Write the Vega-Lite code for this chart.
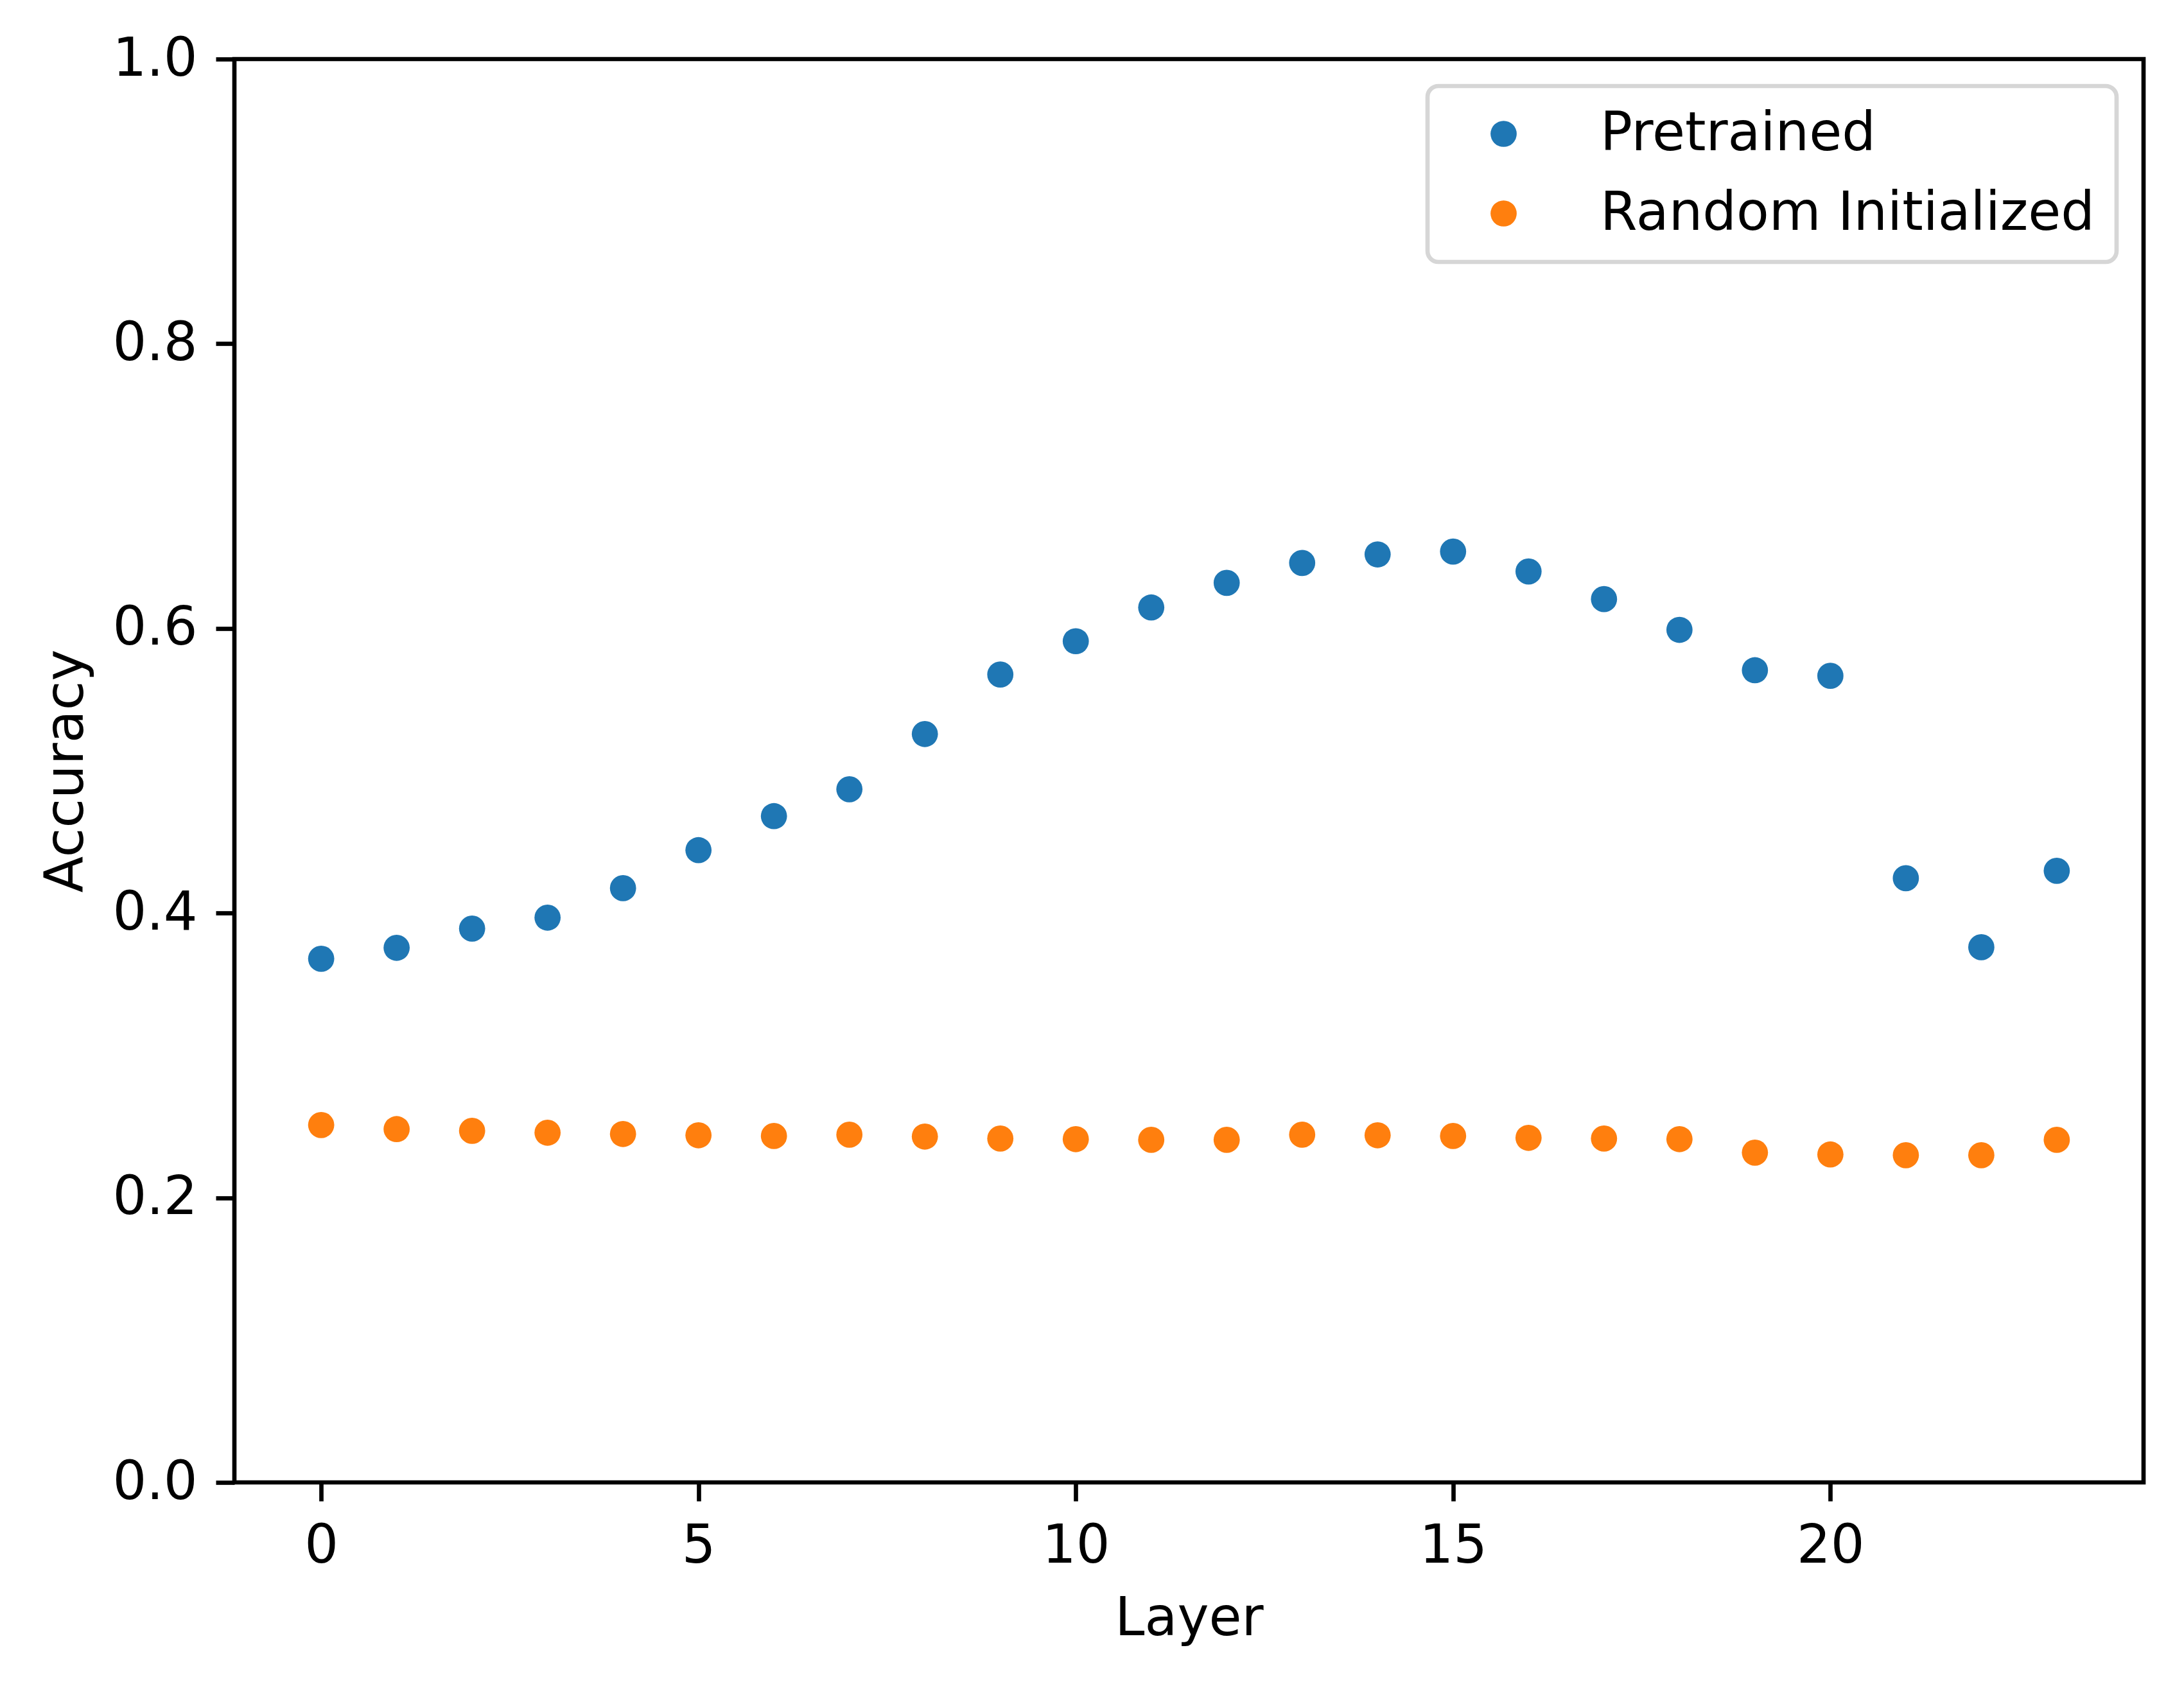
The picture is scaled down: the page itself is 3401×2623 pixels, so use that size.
{
  "$schema": "https://vega.github.io/schema/vega-lite/v6.json",
  "width": 2973,
  "height": 2217,
  "autosize": {"type": "none"},
  "padding": {"left": 365, "top": 92, "right": 63, "bottom": 314},
  "background": "white",
  "config": {
    "view": {"stroke": "black", "strokeWidth": 6.67},
    "font": "DejaVu Sans",
    "axis": {
      "grid": false,
      "domain": false,
      "tickSize": 29,
      "tickWidth": 6.67,
      "tickColor": "black",
      "labelFontSize": 83,
      "labelColor": "black",
      "labelPadding": 29,
      "labelFlush": false,
      "labelOverlap": false,
      "labelBound": false,
      "titleFontSize": 83,
      "titleFontWeight": "normal",
      "titleColor": "black",
      "titlePadding": 30
    }
  },
  "data": {
    "values": [
      {"layer": 0, "acc": 0.3679, "series": "Pretrained"},
      {"layer": 1, "acc": 0.3756, "series": "Pretrained"},
      {"layer": 2, "acc": 0.3891, "series": "Pretrained"},
      {"layer": 3, "acc": 0.3968, "series": "Pretrained"},
      {"layer": 4, "acc": 0.4175, "series": "Pretrained"},
      {"layer": 5, "acc": 0.4442, "series": "Pretrained"},
      {"layer": 6, "acc": 0.4681, "series": "Pretrained"},
      {"layer": 7, "acc": 0.4870, "series": "Pretrained"},
      {"layer": 8, "acc": 0.5258, "series": "Pretrained"},
      {"layer": 9, "acc": 0.5676, "series": "Pretrained"},
      {"layer": 10, "acc": 0.5910, "series": "Pretrained"},
      {"layer": 11, "acc": 0.6147, "series": "Pretrained"},
      {"layer": 12, "acc": 0.6320, "series": "Pretrained"},
      {"layer": 13, "acc": 0.6460, "series": "Pretrained"},
      {"layer": 14, "acc": 0.6520, "series": "Pretrained"},
      {"layer": 15, "acc": 0.6540, "series": "Pretrained"},
      {"layer": 16, "acc": 0.6400, "series": "Pretrained"},
      {"layer": 17, "acc": 0.6206, "series": "Pretrained"},
      {"layer": 18, "acc": 0.5990, "series": "Pretrained"},
      {"layer": 19, "acc": 0.5706, "series": "Pretrained"},
      {"layer": 20, "acc": 0.5667, "series": "Pretrained"},
      {"layer": 21, "acc": 0.4245, "series": "Pretrained"},
      {"layer": 22, "acc": 0.3760, "series": "Pretrained"},
      {"layer": 23, "acc": 0.4297, "series": "Pretrained"},
      {"layer": 0, "acc": 0.2511, "series": "Random Initialized"},
      {"layer": 1, "acc": 0.2482, "series": "Random Initialized"},
      {"layer": 2, "acc": 0.2470, "series": "Random Initialized"},
      {"layer": 3, "acc": 0.2457, "series": "Random Initialized"},
      {"layer": 4, "acc": 0.2448, "series": "Random Initialized"},
      {"layer": 5, "acc": 0.2439, "series": "Random Initialized"},
      {"layer": 6, "acc": 0.2434, "series": "Random Initialized"},
      {"layer": 7, "acc": 0.2443, "series": "Random Initialized"},
      {"layer": 8, "acc": 0.2430, "series": "Random Initialized"},
      {"layer": 9, "acc": 0.2416, "series": "Random Initialized"},
      {"layer": 10, "acc": 0.2412, "series": "Random Initialized"},
      {"layer": 11, "acc": 0.2407, "series": "Random Initialized"},
      {"layer": 12, "acc": 0.2407, "series": "Random Initialized"},
      {"layer": 13, "acc": 0.2443, "series": "Random Initialized"},
      {"layer": 14, "acc": 0.2439, "series": "Random Initialized"},
      {"layer": 15, "acc": 0.2434, "series": "Random Initialized"},
      {"layer": 16, "acc": 0.2421, "series": "Random Initialized"},
      {"layer": 17, "acc": 0.2416, "series": "Random Initialized"},
      {"layer": 18, "acc": 0.2412, "series": "Random Initialized"},
      {"layer": 19, "acc": 0.2317, "series": "Random Initialized"},
      {"layer": 20, "acc": 0.2304, "series": "Random Initialized"},
      {"layer": 21, "acc": 0.2299, "series": "Random Initialized"},
      {"layer": 22, "acc": 0.2299, "series": "Random Initialized"},
      {"layer": 23, "acc": 0.2407, "series": "Random Initialized"}
    ]
  },
  "mark": {"type": "point", "filled": true, "size": 1660, "opacity": 1, "strokeWidth": 0},
  "encoding": {
    "x": {
      "field": "layer",
      "type": "quantitative",
      "scale": {"domain": [-1.15, 24.15], "nice": false, "zero": false},
      "axis": {"values": [0, 5, 10, 15, 20], "title": "Layer", "format": "d"}
    },
    "y": {
      "field": "acc",
      "type": "quantitative",
      "scale": {"domain": [0, 1], "nice": false, "zero": false},
      "axis": {"values": [0, 0.2, 0.4, 0.6, 0.8, 1.0], "format": ".1f", "title": "Accuracy"}
    },
    "color": {
      "field": "series",
      "type": "nominal",
      "scale": {"domain": ["Pretrained", "Random Initialized"], "range": ["#1f77b4", "#ff7f0e"]},
      "legend": {
        "title": null,
        "orient": "none",
        "legendX": 1858,
        "legendY": 42,
        "padding": 33,
        "strokeColor": "#d6d6d6",
        "fillColor": "white",
        "cornerRadius": 17,
        "labelFontSize": 83,
        "labelColor": "black",
        "labelLimit": 3000,
        "symbolSize": 1660,
        "symbolType": "circle",
        "symbolStrokeWidth": 0,
        "symbolOpacity": 1,
        "symbolOffset": 44,
        "labelOffset": 109,
        "rowPadding": 40,
        "encode": {"legend": {"update": {"strokeWidth": {"value": 6.67}}}}
      }
    }
  }
}
